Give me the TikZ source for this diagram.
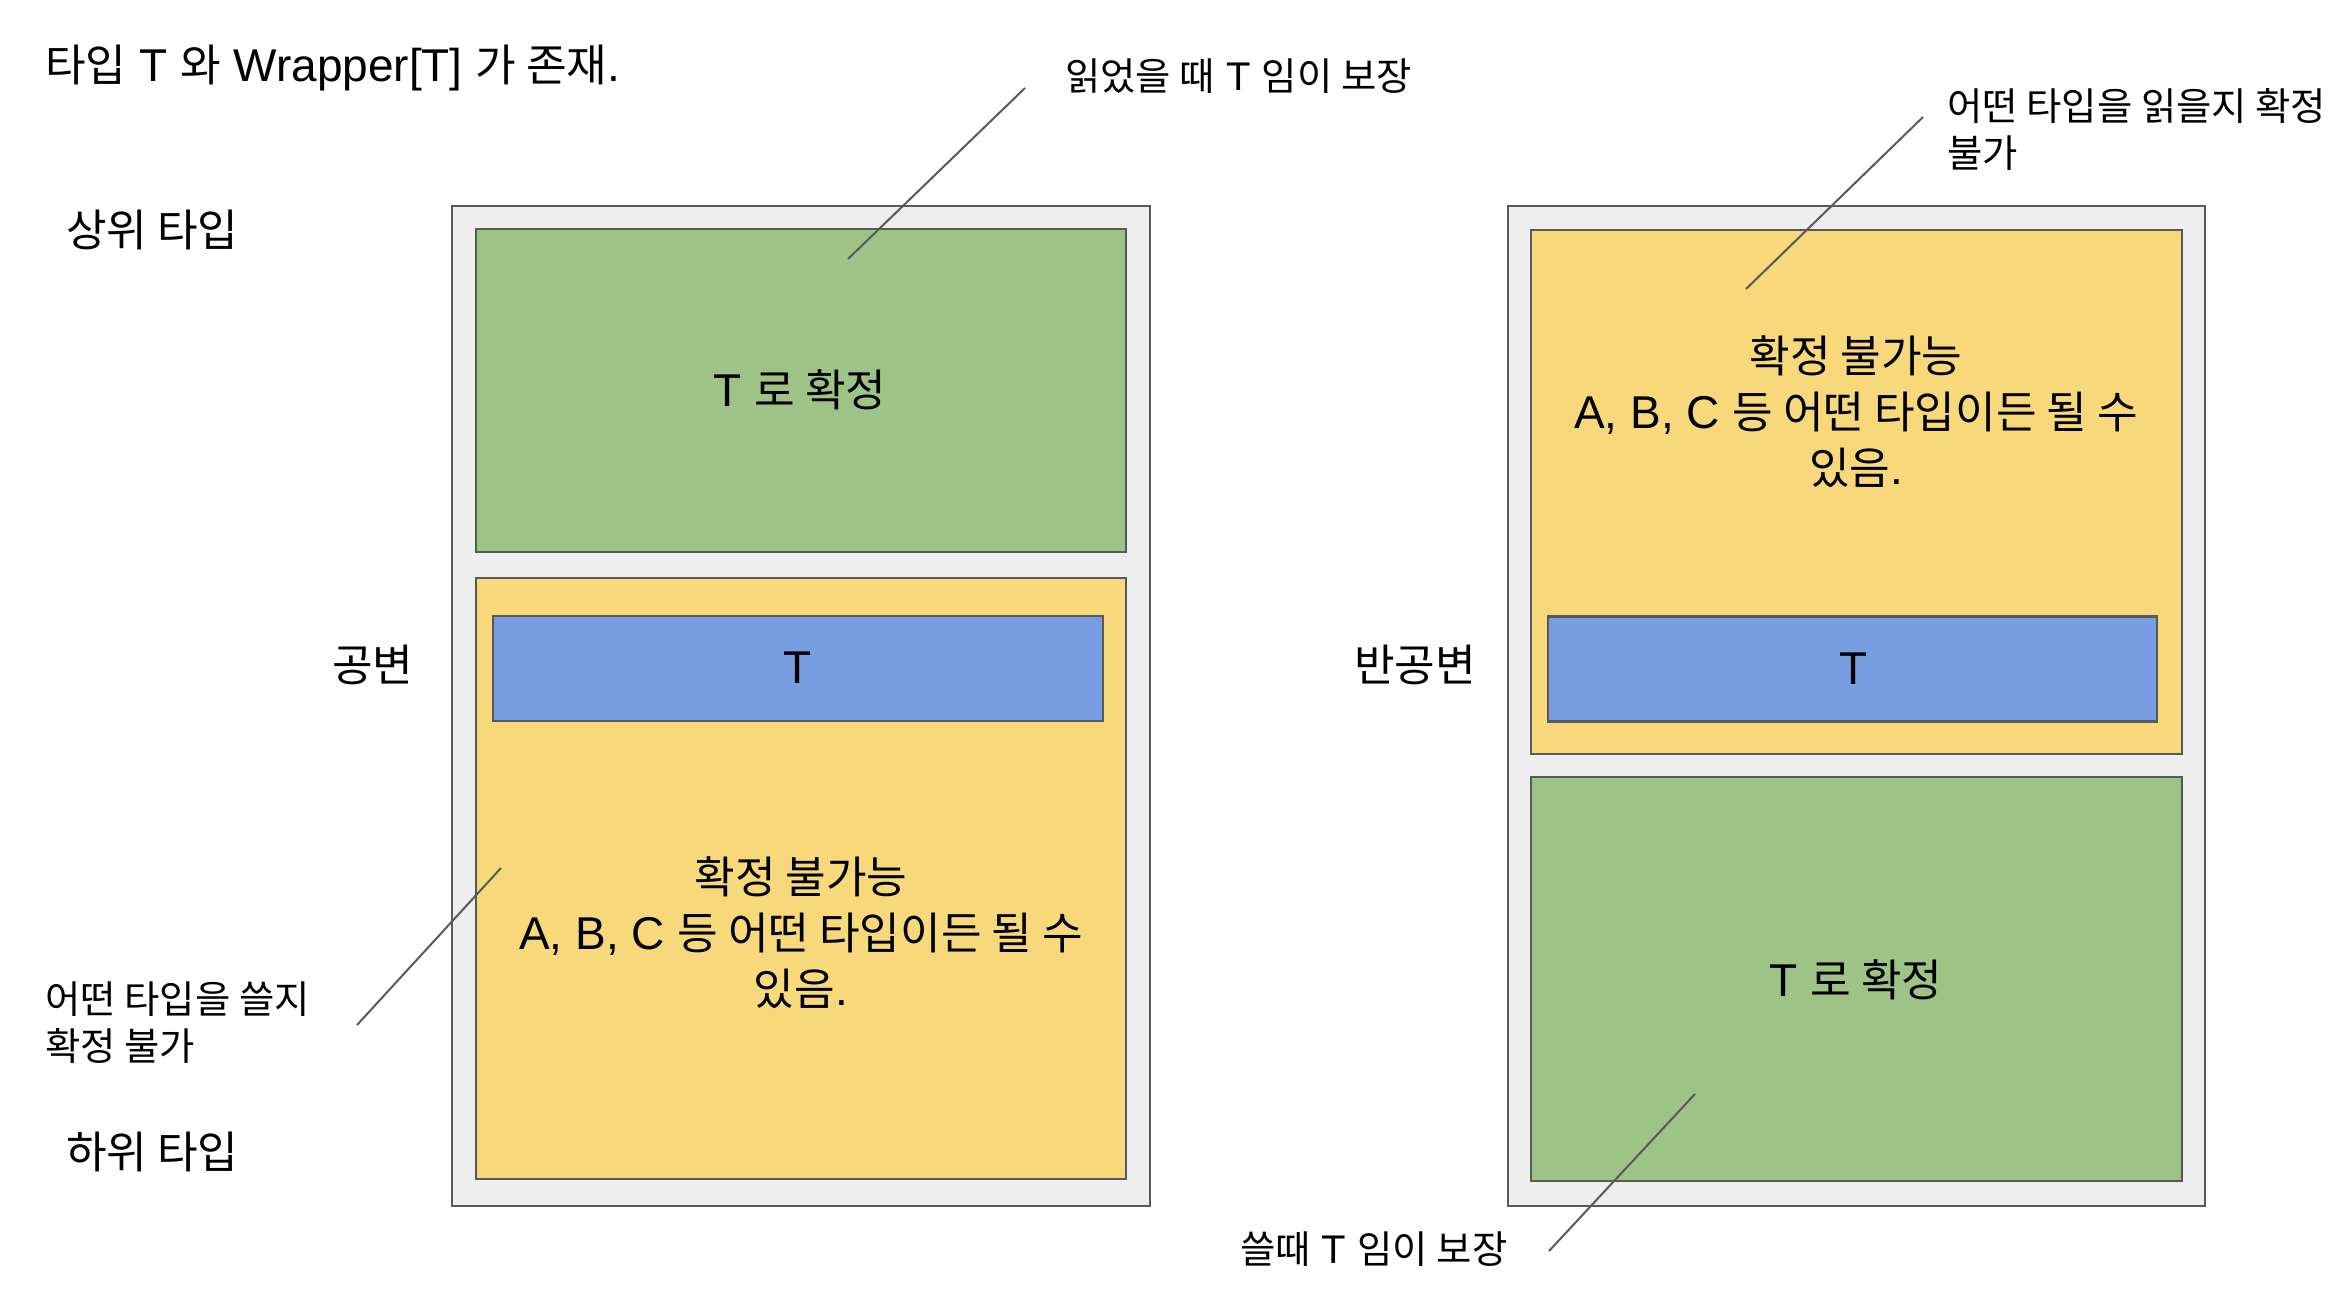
\documentclass[tikz,border=0pt]{standalone}
\usepackage{fontspec}
\setmainfont{Liberation Sans}
\newfontfamily\krfont{Noto Sans CJK KR}[Scale=0.96]
\newcommand{\kr}[1]{{\krfont #1}}
\definecolor{linec}{HTML}{595959}
\definecolor{outerfill}{HTML}{EEEEEE}
\definecolor{greenfill}{HTML}{9EC386}
\definecolor{yellowfill}{HTML}{F7D97B}
\definecolor{bluefill}{HTML}{789DE2}
\tikzset{
  box/.style={draw=linec, line width=2.5pt, inner sep=0pt, rectangle},
  outerbox/.style={box, fill=outerfill},
  greenbox/.style={box, fill=greenfill},
  yellowbox/.style={box, fill=yellowfill},
  bluebox/.style={box, fill=bluefill},
  bigtext/.style={inner sep=0pt, font=\fontsize{46}{56}\selectfont, align=center},
  smalltext/.style={inner sep=0pt, font=\fontsize{40}{47}\selectfont, align=left, anchor=west},
  callout/.style={draw=linec, line width=2pt},
}
\begin{document}
\begin{tikzpicture}[x=1pt,y=-1pt]
\useasboundingbox (0,0) rectangle (2352,1298);
% left column
\node[outerbox, minimum width=698pt, minimum height=1000pt] (lout) at (801,706) {};
\node[greenbox, minimum width=650pt, minimum height=323pt] (lgreen) at (801,390.5) {};
\node[yellowbox, minimum width=650pt, minimum height=601pt] (lyellow) at (801,878.5) {};
\node[bluebox, minimum width=610pt, minimum height=105pt] (lblue) at (798,668.5) {};
\node[bigtext] (lgreentxt) at (800,390) {T \kr{로 확정}};
\node[bigtext] (lbluetxt) at (798,668) {T};
\node[bigtext] (lyellowtxt) at (801,933) {\kr{확정 불가능}\\A, B, C \kr{등 어떤 타입이든 될 수}\\\kr{있음}.};
% right column
\node[outerbox, minimum width=697pt, minimum height=1000pt] (rout) at (1856.5,706) {};
\node[yellowbox, minimum width=651pt, minimum height=524pt] (ryellow) at (1856.5,492) {};
\node[bluebox, minimum width=609pt, minimum height=105pt] (rblue) at (1852.5,669) {};
\node[greenbox, minimum width=651pt, minimum height=404pt] (rgreen) at (1856.5,979) {};
\node[bigtext] (ryellowtxt) at (1856,412) {\kr{확정 불가능}\\A, B, C \kr{등 어떤 타입이든 될 수}\\\kr{있음}.};
\node[bigtext] (rbluetxt) at (1854,669) {T};
\node[bigtext] (rgreentxt) at (1856,980) {T \kr{로 확정}};
% labels
\node[bigtext, anchor=west] (title) at (45,68) {\kr{타입} T \kr{와} Wrapper[T] \kr{가 존재}.};
\node[bigtext, anchor=west] (upper) at (66,230) {\kr{상위 타입}};
\node[bigtext, anchor=west] (lower) at (66,1152) {\kr{하위 타입}};
\node[bigtext, anchor=west] (cov) at (332,665) {\kr{공변}};
\node[bigtext, anchor=west] (contra) at (1354,665) {\kr{반공변}};
% annotations
\node[smalltext] (readok) at (1065,76) {\kr{읽었을 때} T \kr{임이 보장}};
\node[smalltext] (readno) at (1947,129.5) {\kr{어떤 타입을 읽을지 확정}\\\kr{불가}};
\node[smalltext] (writeno) at (45,1022.5) {\kr{어떤 타입을 쓸지}\\\kr{확정 불가}};
\node[smalltext] (writeok) at (1240,1249) {\kr{쓸때} T \kr{임이 보장}};
% callout lines
\coordinate (c1a) at (1025,88); \coordinate (c1b) at (848,259);
\coordinate (c2a) at (1923,117); \coordinate (c2b) at (1746,289);
\coordinate (c3a) at (357,1025); \coordinate (c3b) at (501,868);
\coordinate (c4a) at (1549,1251); \coordinate (c4b) at (1695,1094);
\draw[callout] (c1a) -- (c1b);
\draw[callout] (c2a) -- (c2b);
\draw[callout] (c3a) -- (c3b);
\draw[callout] (c4a) -- (c4b);
\end{tikzpicture}
\end{document}
